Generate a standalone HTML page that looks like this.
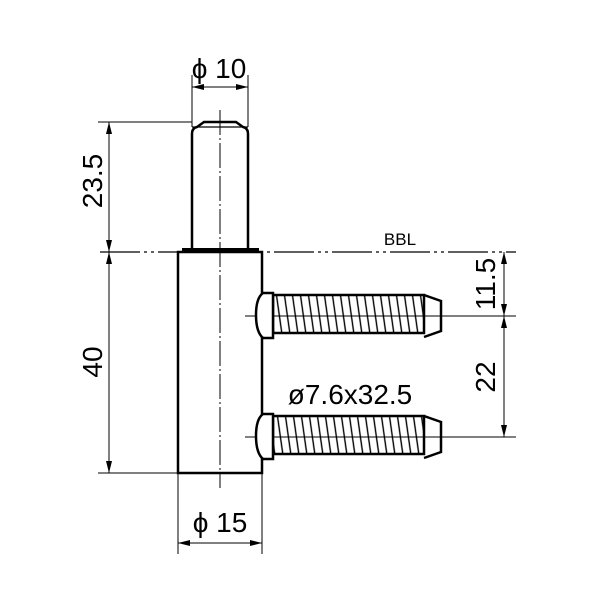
<!DOCTYPE html>
<html><head><style>body{margin:0;background:#fff}svg{display:block}</style></head>
<body>
<svg width="600" height="600" viewBox="0 0 600 600" xmlns="http://www.w3.org/2000/svg" font-family="'Liberation Sans','DejaVu Sans',sans-serif">
<defs>
<pattern id="th" width="8" height="40" patternUnits="userSpaceOnUse" patternTransform="skewX(8)">
<line x1="3" y1="0" x2="3" y2="40" stroke="#000" stroke-width="1.4"/>
</pattern>
<marker id="a" viewBox="0 0 12 6" refX="12" refY="3" markerWidth="12" markerHeight="6" orient="auto-start-reverse" markerUnits="userSpaceOnUse"><path d="M0,0L12,3L0,6z" fill="#000"/></marker>
</defs>
<g stroke="#000" fill="none">
<line x1="220" y1="110" x2="220" y2="488" stroke-width="1" stroke-dasharray="25,3,2,3"/>
<line x1="100" y1="252" x2="516" y2="252" stroke-width="1.2" stroke-dasharray="40,4,3,4,3,4"/>
<line x1="245" y1="316" x2="516" y2="316" stroke-width="1"/>
<line x1="245" y1="437" x2="516" y2="437" stroke-width="1"/>
<path d="M192,252 V134 Q192,128 197,127 L204,122 H236 L243,127 Q248,128 248,134 V252" stroke-width="2.5"/>
<line x1="192" y1="127" x2="248" y2="127" stroke-width="1.2"/>
<rect x="182" y="248" width="77" height="5" fill="#000" stroke="none"/>
<rect x="178" y="252" width="84" height="221" stroke-width="2.5"/>
<g stroke-width="2.5">
<rect x="273" y="295" width="151" height="38" fill="url(#th)"/>
<path d="M424,295 L441,301 V331 L424,337" />
<path d="M273,293 H263 Q256,298 256,315 Q256,332 263,338 H273 Z" fill="#fff"/>
<rect x="273" y="416" width="151" height="38" fill="url(#th)"/>
<path d="M424,416 L441,422 V452 L424,458" />
<path d="M273,414 H263 Q256,419 256,436 Q256,453 263,459 H273 Z" fill="#fff"/>
</g>
<g stroke-width="1">
<line x1="98" y1="122" x2="192" y2="122"/>
<line x1="98" y1="473" x2="178" y2="473"/>
<line x1="109" y1="122" x2="109" y2="252" marker-start="url(#a)" marker-end="url(#a)"/>
<line x1="109" y1="252" x2="109" y2="473" marker-start="url(#a)" marker-end="url(#a)"/>
<line x1="192" y1="75" x2="192" y2="127"/>
<line x1="248" y1="75" x2="248" y2="127"/>
<line x1="192" y1="87" x2="248" y2="87" marker-start="url(#a)" marker-end="url(#a)"/>
<line x1="178" y1="473" x2="178" y2="554"/>
<line x1="262" y1="473" x2="262" y2="554"/>
<line x1="178" y1="543" x2="262" y2="543" marker-start="url(#a)" marker-end="url(#a)"/>
<line x1="504" y1="252" x2="504" y2="316" marker-start="url(#a)" marker-end="url(#a)"/>
<line x1="504" y1="316" x2="504" y2="437" marker-start="url(#a)" marker-end="url(#a)"/>
</g>
</g>
<g fill="#000" font-size="28">
<text x="219" y="78" text-anchor="middle">ϕ 10</text>
<text x="220" y="532" text-anchor="middle">ϕ 15</text>
<text x="350" y="404" text-anchor="middle">ø7.6x32.5</text>
<text x="400" y="245" text-anchor="middle" font-size="17">BBL</text>
<text transform="translate(102,181) rotate(-90)" text-anchor="middle">23.5</text>
<text transform="translate(102,362) rotate(-90)" text-anchor="middle">40</text>
<text transform="translate(495,284) rotate(-90)" text-anchor="middle">11.5</text>
<text transform="translate(495,377) rotate(-90)" text-anchor="middle">22</text>
</g>
</svg>
</body></html>
